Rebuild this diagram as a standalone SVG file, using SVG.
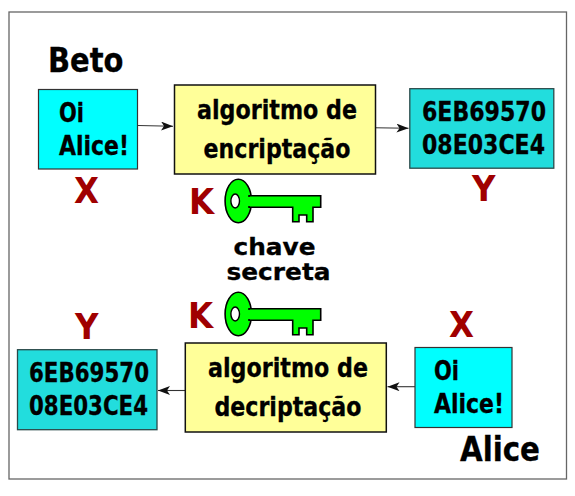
<svg xmlns="http://www.w3.org/2000/svg" width="575" height="496" viewBox="0 0 575 496">
<defs>
<marker id="ah" markerWidth="13" markerHeight="10" refX="12" refY="4.500" orient="auto" markerUnits="userSpaceOnUse"><path d="M0,0 L12,4.500 L0,9 L3,4.500 Z" fill="#111"/></marker>
<g id="key">
<ellipse cx="238.300" cy="201" rx="13.200" ry="21.800" class="k"/>
<path class="k" d="M249,195.800 H320.700 V207.300 H313 V221.700 H306.700 V215 H299 V221.700 H292.700 V207.300 H249 Z"/>
<path fill="#0f0" d="M246,197 H254 V206 H246 Z"/>
<ellipse cx="235.200" cy="201" rx="4.300" ry="7" fill="#fff" stroke="#000" stroke-width="1.400"/>
</g>
</defs>
<style>
text{font-family:"DejaVu Sans Condensed","DejaVu Sans",sans-serif;font-weight:bold;fill:#000;stroke:#000;stroke-width:.3}
.k{fill:#0f0;stroke:#000;stroke-width:1.600}
.b{font-size:26px}
.h{font-size:33.500px}
.r{font-size:36px;fill:#a00000;stroke:none}
.c{fill:#0ff;stroke:#333;stroke-width:1.200}
.t{fill:#22dddd;stroke:#2a4a4a;stroke-width:1.300}
.y{fill:#ffff99;stroke:#111;stroke-width:1.500}
.l{fill:none;stroke:#333;stroke-width:1.100;marker-end:url(#ah)}
.s{font-family:"DejaVu Sans",sans-serif;font-size:22.500px}
</style>
<rect x="9" y="12" width="557.500" height="467" fill="#fff" stroke="#666" stroke-width="1.300"/>
<g id="connectors">
<path class="l" d="M138,125.500 L173,126.300"/>
<path class="l" d="M374,127.700 L408.500,128.300"/>
<path class="l" d="M185,390.500 L158,390.500"/>
<path class="l" d="M415,386.700 L387.500,386.700"/>
</g>
<g id="beto"><text class="h" x="48" y="72" textLength="75.500" lengthAdjust="spacingAndGlyphs">Beto</text></g>
<g id="alice"><text class="h" x="460" y="461" textLength="80" lengthAdjust="spacingAndGlyphs">Alice</text></g>
<g id="x-plain-top"><rect class="c" x="38.500" y="89.500" width="99" height="79.500"/><text class="b" x="59" y="122" textLength="25" lengthAdjust="spacingAndGlyphs">Oi</text><text class="b" x="59" y="155" textLength="70" lengthAdjust="spacingAndGlyphs">Alice!</text></g>
<g id="encrypt"><rect class="y" x="174.500" y="85" width="201" height="89"/><text class="b" x="197" y="119" textLength="160" lengthAdjust="spacingAndGlyphs">algoritmo de</text><text class="b" x="203.500" y="158" textLength="147" lengthAdjust="spacingAndGlyphs">encriptação</text></g>
<g id="y-cipher-top"><rect class="t" x="409.800" y="88.700" width="144" height="79.500"/><text class="b" x="422" y="120.500" textLength="124" lengthAdjust="spacingAndGlyphs">6EB69570</text><text class="b" x="422" y="153.500" textLength="123" lengthAdjust="spacingAndGlyphs">08E03CE4</text></g>
<g id="x-label-top"><text class="r" x="74" y="203">X</text></g>
<g id="y-label-top"><text class="r" x="472" y="201">Y</text></g>
<g id="k-top"><text class="r" x="189" y="214">K</text><use href="#key"/></g>
<g id="secret"><text class="s" x="233.500" y="255" textLength="82" lengthAdjust="spacingAndGlyphs">chave</text><text class="s" x="226.500" y="280" textLength="104" lengthAdjust="spacingAndGlyphs">secreta</text></g>
<g id="k-bottom"><text class="r" x="188" y="328">K</text><use href="#key" transform="translate(0,113)"/></g>
<g id="y-label-bottom"><text class="r" x="75" y="339">Y</text></g>
<g id="x-label-bottom"><text class="r" x="449" y="337">X</text></g>
<g id="y-cipher-bottom"><rect class="t" x="17.500" y="349.700" width="139.500" height="80"/><text class="b" x="29" y="382" textLength="120" lengthAdjust="spacingAndGlyphs">6EB69570</text><text class="b" x="29" y="414.500" textLength="119" lengthAdjust="spacingAndGlyphs">08E03CE4</text></g>
<g id="decrypt"><rect class="y" x="185.300" y="343" width="201" height="89"/><text class="b" x="208" y="376.500" textLength="160" lengthAdjust="spacingAndGlyphs">algoritmo de</text><text class="b" x="214.500" y="415.500" textLength="147" lengthAdjust="spacingAndGlyphs">decriptação</text></g>
<g id="x-plain-bottom"><rect class="c" x="415" y="347.500" width="97" height="80"/><text class="b" x="434" y="380" textLength="25" lengthAdjust="spacingAndGlyphs">Oi</text><text class="b" x="434" y="413" textLength="70" lengthAdjust="spacingAndGlyphs">Alice!</text></g>
</svg>
